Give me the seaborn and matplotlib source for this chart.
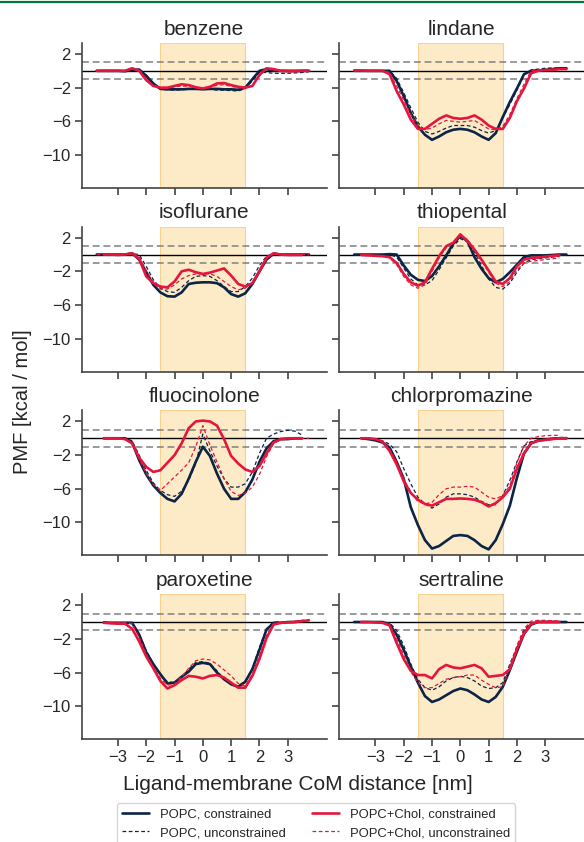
import numpy as np
import matplotlib
matplotlib.use('Agg')
import matplotlib.pyplot as plt
import seaborn as sns
from matplotlib.lines import Line2D

nan = np.nan

# CoM distance grid [nm], -3.75 ... 3.75 in 0.25 steps
distance = np.arange(-3.75, 3.76, 0.25)

molecules = ['benzene', 'lindane', 'isoflurane', 'thiopental',
             'fluocinolone', 'chlorpromazine', 'paroxetine', 'sertraline']
series_labels = ['POPC, constrained', 'POPC, unconstrained',
                 'POPC+Chol, constrained', 'POPC+Chol, unconstrained']

# PMF values [kcal/mol]
benzene_popc_c = [0, 0, 0, 0, -0.05, 0.1, 0.15, -0.6, -1.5, -2.15, -2.2, -2.2, -2.2, -2.15, -2.15,
                  -2.2,
                  -2.15, -2.15, -2.2, -2.2, -2.25, -2.0, -1.0, 0.0, 0.2, 0.0, 0, 0, 0, 0, 0]
benzene_popc_u = [0, 0, 0, 0, 0, 0.05, 0.1, -0.5, -1.5, -2.2, -2.25, -2.3, -2.25, -2.2, -2.2,
                  -2.2,
                  -2.2, -2.3, -2.3, -2.35, -2.4, -2.1, -1.2, -0.2, -0.2, -0.3, -0.3, -0.3, -0.25, -0.2, -0.1]
benzene_chol_c = [0, 0, 0, 0, 0.0, 0.3, 0.0, -1.1, -1.8, -2.0, -2.0, -1.8, -1.6, -1.7, -1.95,
                  -2.1,
                  -1.9, -1.5, -1.45, -1.7, -1.9, -2.0, -1.8, -0.5, 0.3, 0.2, 0.0, -0.05, -0.05, 0, 0]
benzene_chol_u = [0, 0, 0, 0, 0, 0.25, 0.0, -1.0, -1.75, -2.0, -2.05, -1.9, -1.8, -1.85, -2.0,
                  -2.1,
                  -2.0, -1.7, -1.65, -1.85, -2.0, -2.0, -1.8, -0.6, 0.2, 0.1, 0, 0, 0, 0, 0]

lindane_popc_c = [0, 0, 0, 0, 0, 0, -1.2, -3.0, -5.0, -6.6, -7.6, -8.2, -7.8, -7.3, -7.0,
                  -6.9,
                  -7.0, -7.3, -7.8, -8.2, -7.4, -5.5, -3.7, -2.1, -0.4, 0.0, 0.05, 0.1, 0.2, 0.3, 0.3]
lindane_popc_u = [0, 0, 0, 0, 0, 0, -0.9, -2.6, -4.4, -6.1, -7.2, -7.5, -7.2, -6.8, -6.5,
                  -6.5,
                  -6.5, -6.7, -7.1, -7.4, -7.1, -5.6, -4.0, -2.3, -0.5, 0.1, 0.2, 0.3, 0.35, 0.3, 0.2]
lindane_chol_c = [0.05, 0.05, 0, 0, 0, -0.4, -2.4, -4.0, -5.8, -6.9, -6.9, -6.3, -5.7, -5.3, -5.6,
                  -5.7,
                  -5.6, -5.3, -5.8, -6.5, -6.9, -6.9, -5.6, -3.6, -2.1, -0.3, 0.0, 0.1, 0.1, 0.2, 0.2]
lindane_chol_u = [0, 0, 0, 0, 0, -0.2, -1.8, -3.5, -5.2, -6.5, -7.0, -6.8, -6.3, -5.9, -6.0,
                  -6.1,
                  -6.0, -5.9, -6.4, -6.9, -7.0, -6.6, -5.2, -3.3, -1.6, 0.0, 0.1, 0.1, 0.2, 0.2, 0.2]

isoflurane_popc_c = [0, 0, 0, 0, 0, 0.15, -0.6, -2.1, -3.6, -4.5, -4.95, -5.0, -4.5, -3.5, -3.35,
                     -3.3,
                     -3.3, -3.4, -3.9, -4.7, -5.0, -4.6, -3.5, -2.0, -0.6, 0.1, 0, 0, 0, 0, 0]
isoflurane_popc_u = [0, 0, 0, 0, 0, 0.1, 0.0, -1.4, -3.0, -4.0, -4.4, -4.5, -3.9, -3.1, -2.6,
                     -2.5,
                     -2.6, -3.1, -3.8, -4.4, -4.4, -3.8, -2.8, -1.3, -0.2, 0.1, 0, 0, 0, 0, 0]
isoflurane_chol_c = [nan, 0, 0, -0.05, 0.0, 0.15, -0.5, -2.6, -3.4, -3.8, -3.9, -3.2, -2.0, -1.8, -2.1,
                     -2.3,
                     -2.15, -1.9, -1.65, -2.5, -3.5, -3.8, -3.4, -2.0, -0.4, 0.15, 0.0, -0.05, -0.05, -0.05, nan]
isoflurane_chol_u = [0, 0, 0, 0, 0, 0.1, -0.2, -1.9, -3.3, -4.1, -4.1, -3.6, -2.9, -2.5, -2.3,
                     -2.3,
                     -2.3, -2.6, -3.2, -3.8, -4.2, -4.0, -3.3, -1.8, -0.3, 0.1, 0, 0, 0, 0, 0]

thiopental_popc_c = [0, 0, 0, 0, 0, 0.05, 0.0, -1.3, -2.4, -3.0, -3.15, -2.55, -1.4, -0.1, 1.3,
                     2.2,
                     1.6, -0.3, -1.7, -2.8, -3.3, -2.9, -2.1, -1.2, -0.3, -0.1, -0.1, -0.1, -0.05, 0, 0]
thiopental_popc_u = [0, 0, 0, 0, 0, 0, -0.3, -1.6, -2.9, -3.6, -3.6, -3.1, -1.8, -0.4, 1.0,
                     1.9,
                     1.5, 0.3, -1.3, -2.9, -3.9, -4.1, -3.4, -2.1, -1.0, -0.6, -0.5, -0.4, -0.3, -0.2, nan]
thiopental_chol_c = [nan, -0.05, -0.1, -0.15, -0.2, -0.3, -1.0, -2.3, -3.3, -3.7, -3.3, -1.7, -0.2, 1.0, 1.4,
                     2.4,
                     1.6, 0.6, -0.6, -1.9, -3.2, -3.5, -2.8, -1.4, -0.6, -0.4, -0.35, -0.25, -0.15, -0.1, nan]
thiopental_chol_u = [nan, -0.05, -0.1, -0.15, -0.2, -0.4, -1.2, -2.6, -3.6, -4.0, -3.6, -2.0, -0.4, 0.8, 1.5,
                     2.2,
                     1.8, 0.6, -0.8, -2.1, -3.4, -3.8, -3.2, -1.8, -1.0, -0.8, -0.7, -0.6, -0.5, -0.4, nan]

fluocinolone_popc_c = [nan, 0, 0, 0, 0, -0.5, -2.6, -4.3, -5.6, -6.5, -7.2, -7.5, -6.6, -4.8, -2.8,
                       -1.0,
                       -2.1, -4.2, -6.0, -7.2, -7.2, -6.4, -4.9, -2.8, -1.2, -0.35, -0.1, -0.1, 0, 0, nan]
fluocinolone_popc_u = [nan, 0, 0, 0, 0, -0.3, -2.0, -3.8, -5.3, -6.2, -6.7, -6.9, -6.3, -5.0, -3.0,
                       0.5,
                       -1.5, -3.3, -4.8, -5.8, -5.8, -5.4, -4.0, -1.8, 0.0, 0.5, 0.8, 0.95, 0.85, 0.4, nan]
fluocinolone_chol_c = [nan, 0, 0, 0, -0.1, -0.6, -2.3, -3.4, -4.0, -3.8, -2.9, -2.0, -0.6, 1.2, 2.0,
                       2.1,
                       2.0, 1.5, -0.1, -2.1, -3.0, -3.7, -4.0, -3.3, -1.8, -0.5, -0.1, 0, 0, 0, nan]
fluocinolone_chol_u = [nan, 0, 0, 0, -0.1, -0.6, -2.4, -4.2, -5.5, -6.2, -5.4, -4.6, -3.8, -2.9, -1.0,
                       1.5,
                       -0.8, -2.8, -4.8, -6.3, -6.8, -6.5, -5.8, -4.3, -2.2, -0.6, -0.2, -0.1, -0.05, 0, 0]

chlorpromazine_popc_c = [nan, 0, -0.1, -0.25, -0.5, -1.1, -2.8, -4.8, -8.2, -10.3, -12.1, -13.1, -12.8, -12.2, -11.6,
                         -11.5,
                         -11.6, -12.1, -12.8, -13.2, -12.1, -10.2, -8.0, -4.7, -1.8, -0.6, -0.25, -0.15, -0.05, 0, 0]
chlorpromazine_popc_u = [nan, 0, -0.05, -0.1, -0.3, -0.7, -1.6, -3.6, -5.4, -7.0, -7.8, -8.3, -7.8, -7.0, -6.6,
                         -6.6,
                         -6.7, -7.0, -7.5, -7.9, -7.9, -6.8, -5.0, -2.8, -0.9, -0.4, -0.25, -0.1, 0, 0.1, 0.1]
chlorpromazine_chol_c = [nan, 0, 0, -0.1, -0.4, -1.5, -3.1, -5.1, -6.5, -7.3, -7.8, -8.0, -7.6, -7.2, -7.2,
                         -7.15,
                         -7.2, -7.3, -7.6, -8.1, -7.7, -7.0, -6.0, -3.6, -1.8, -0.6, -0.3, -0.2, -0.1, 0, 0]
chlorpromazine_chol_u = [nan, 0, 0, -0.1, -0.4, -1.3, -2.8, -4.8, -6.4, -7.5, -7.8, -7.6, -6.7, -6.0, -5.8,
                         -5.8,
                         -5.7, -5.8, -6.4, -7.0, -7.2, -6.8, -5.6, -2.9, -0.9, 0.0, 0.2, 0.3, 0.35, 0.35, nan]

paroxetine_popc_c = [nan, -0.05, -0.1, -0.1, -0.1, -0.1, -1.5, -3.6, -5.0, -6.2, -7.3, -7.2, -6.5, -5.9, -5.0,
                     -4.85,
                     -5.0, -6.0, -6.8, -7.4, -7.7, -7.1, -5.6, -3.3, -0.9, -0.1, -0.1, 0, 0, 0.1, nan]
paroxetine_popc_u = [nan, -0.05, -0.1, -0.1, -0.1, -0.1, -1.4, -3.4, -5.0, -6.3, -7.1, -7.2, -6.6, -5.6, -4.8,
                     -4.7,
                     -4.9, -5.8, -6.8, -7.3, -7.6, -7.0, -5.5, -3.0, -0.8, 0.0, 0.0, 0.0, 0.05, 0.1, nan]
paroxetine_chol_c = [nan, -0.1, -0.15, -0.2, -0.2, -0.8, -2.3, -4.1, -5.5, -7.0, -7.9, -7.5, -6.9, -6.4, -6.5,
                     -6.7,
                     -6.4, -6.3, -6.6, -7.2, -7.8, -7.8, -6.4, -4.4, -1.9, -0.3, -0.1, -0.05, 0, 0.1, 0.2]
paroxetine_chol_u = [nan, -0.05, -0.1, -0.1, -0.1, -0.2, -1.8, -3.8, -5.4, -6.7, -7.5, -7.4, -6.5, -5.5, -4.6,
                     -4.4,
                     -4.5, -5.0, -5.7, -6.4, -7.3, -7.6, -6.2, -4.0, -1.6, -0.2, -0.1, 0, 0.1, 0.2, 0.3]

sertraline_popc_c = [0, 0, 0, 0, 0, -0.3, -1.5, -3.3, -5.3, -7.2, -8.8, -9.5, -9.2, -8.7, -8.2,
                     -7.9,
                     -8.1, -8.6, -9.2, -9.5, -8.9, -7.7, -5.7, -3.5, -1.4, -0.3, 0.0, 0.0, 0.0, 0.0, 0.0]
sertraline_popc_u = [0, 0, 0, 0, 0, -0.1, -1.0, -2.8, -5.0, -6.8, -7.8, -8.1, -7.7, -7.0, -6.6,
                     -6.45,
                     -6.6, -7.0, -7.6, -7.9, -7.8, -7.2, -5.0, -3.0, -1.0, -0.1, 0.1, 0.1, 0.1, 0.05, 0.0]
sertraline_chol_c = [nan, 0, 0, -0.05, -0.1, -0.4, -2.5, -4.4, -5.8, -6.3, -6.3, -6.7, -5.6, -5.1, -5.4,
                     -5.5,
                     -5.3, -5.1, -5.5, -6.5, -6.4, -6.3, -5.6, -3.2, -1.4, -0.2, 0.0, 0.0, 0.0, 0.0, nan]
sertraline_chol_u = [nan, 0, 0, -0.05, -0.1, -0.3, -2.0, -3.9, -5.9, -7.2, -7.8, -7.8, -7.3, -6.8, -6.6,
                     -6.5,
                     -6.3, -6.3, -6.9, -7.4, -7.8, -7.7, -5.3, -2.8, -0.8, 0.1, 0.2, 0.2, 0.15, 0.1, nan]

panels = [
    [benzene_popc_c, benzene_popc_u, benzene_chol_c, benzene_chol_u],
    [lindane_popc_c, lindane_popc_u, lindane_chol_c, lindane_chol_u],
    [isoflurane_popc_c, isoflurane_popc_u, isoflurane_chol_c, isoflurane_chol_u],
    [thiopental_popc_c, thiopental_popc_u, thiopental_chol_c, thiopental_chol_u],
    [fluocinolone_popc_c, fluocinolone_popc_u, fluocinolone_chol_c, fluocinolone_chol_u],
    [chlorpromazine_popc_c, chlorpromazine_popc_u, chlorpromazine_chol_c, chlorpromazine_chol_u],
    [paroxetine_popc_c, paroxetine_popc_u, paroxetine_chol_c, paroxetine_chol_u],
    [sertraline_popc_c, sertraline_popc_u, sertraline_chol_c, sertraline_chol_u],
]
for p in panels:
    for s in p:
        assert len(s) == len(distance)

navy = '#0b2447'
red = '#e5163d'
styles = [dict(color=navy, lw=1.9, linestyle='-'),
          dict(color=navy, lw=0.9, linestyle=(0, (3, 2))),
          dict(color=red, lw=1.9, linestyle='-'),
          dict(color=red, lw=0.9, linestyle=(0, (3, 2)))]

sns.set_style('ticks')
plt.rcParams['font.family'] = ['Liberation Sans', 'DejaVu Sans']

fig, axes = plt.subplots(4, 2, figsize=(5.84, 8.42), dpi=100, sharex=True, sharey=True)
fig.subplots_adjust(left=0.1404, right=1.0, top=0.9489, bottom=0.1223, wspace=0.053, hspace=0.269)

for ax, name, series in zip(axes.flat, molecules, panels):
    ax.axvspan(-1.5, 1.5, facecolor='#fdebc7', edgecolor='#f8d28e', lw=0.8, zorder=0)
    ax.axhline(0, color='black', lw=1.0, zorder=1)
    ax.axhline(1, color='grey', lw=1.1, linestyle=(0, (4.5, 2.5)), zorder=1)
    ax.axhline(-1, color='grey', lw=1.1, linestyle=(0, (4.5, 2.5)), zorder=1)
    for vals, lab, st in zip(series, series_labels, styles):
        sns.lineplot(x=distance, y=np.array(vals, dtype=float), ax=ax, label=lab, zorder=2, **st)
    leg = ax.get_legend()
    if leg is not None:
        leg.remove()
    ax.set_title(name, fontsize=15, pad=6)
    ax.set_xlabel('')
    ax.set_ylabel('')
    ax.set_xlim(-4.27, 4.37)
    ax.set_ylim(-13.9, 3.3)
    ax.set_xticks([-3, -2, -1, 0, 1, 2, 3])
    ax.set_yticks([2, -2, -6, -10])
    sns.despine(ax=ax)
    for sp in ['left', 'bottom']:
        ax.spines[sp].set_color('#444444')
        ax.spines[sp].set_linewidth(1.2)
    ax.tick_params(labelsize=12, length=5, width=1.2, color='#444444', pad=3)

fig.text(0.038, 0.523, 'PMF [kcal / mol]', rotation=90, fontsize=14.5, ha='center', va='center')
fig.text(0.51, 0.068, 'Ligand-membrane CoM distance [nm]', fontsize=15, ha='center', va='center')

handles, labels = axes[0, 0].get_legend_handles_labels()
fig.legend(handles, labels, loc='upper center', bbox_to_anchor=(0.541, 0.0463), ncol=2,
           fontsize=9.4, frameon=True, columnspacing=2.0, handlelength=2.1, borderaxespad=0,
           edgecolor='#cccccc', fancybox=True)

# thin green rule at the very top of the page
fig.add_artist(Line2D([0, 1], [1 - 2 / 842, 1 - 2 / 842], transform=fig.transFigure,
                      color='#00783c', lw=1.6))

fig.savefig('out.png', dpi=100)
